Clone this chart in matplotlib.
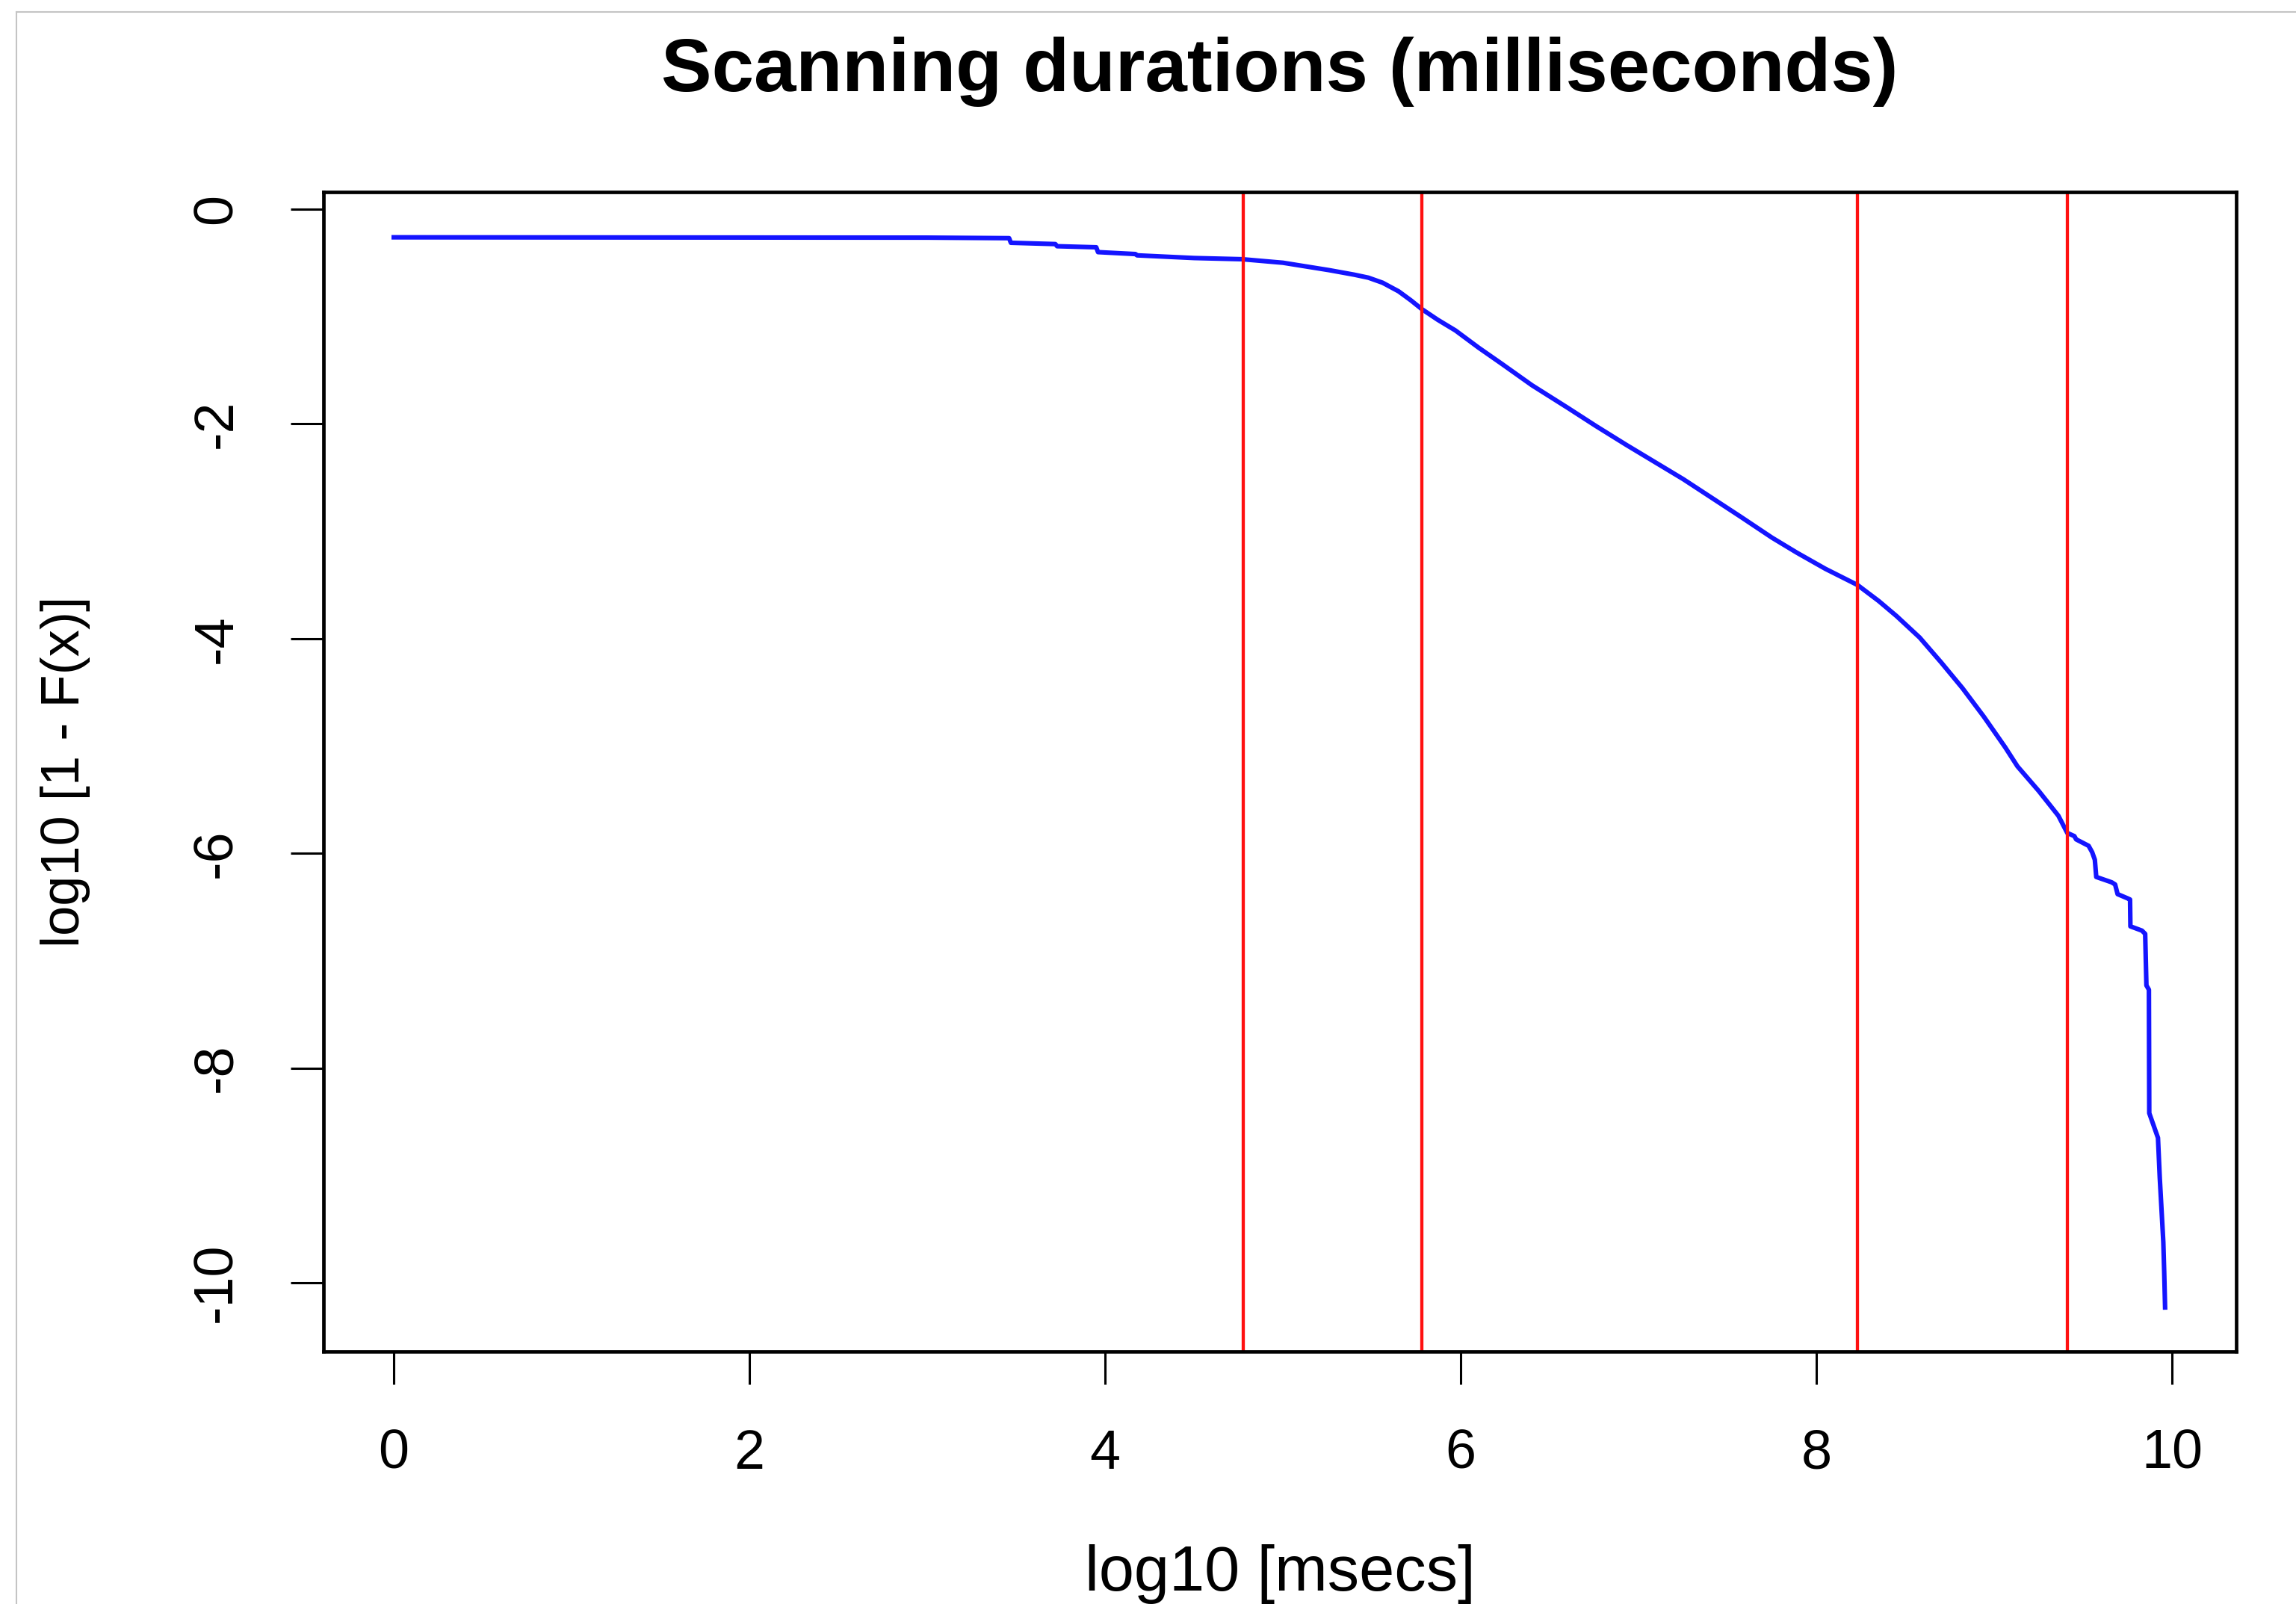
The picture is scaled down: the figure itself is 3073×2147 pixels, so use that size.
import matplotlib
matplotlib.use("Agg")
import matplotlib.pyplot as plt
from matplotlib.lines import Line2D

plt.rcParams['font.family'] = ['Liberation Sans', 'DejaVu Sans']
plt.rcParams['axes.unicode_minus'] = False

# ---- data ----
log_msecs = [0.0, 3.0, 3.46, 3.47, 3.72, 3.73, 3.95, 3.96, 4.17, 4.18, 4.5, 4.77,
             5.0, 5.26, 5.4, 5.48, 5.56, 5.65, 5.72, 5.78, 5.87, 5.97, 6.1, 6.23,
             6.4, 6.6, 6.76, 6.93, 7.25, 7.57, 7.75, 7.89, 8.05, 8.23, 8.35, 8.45,
             8.58, 8.7, 8.82, 8.94, 9.06, 9.13, 9.25, 9.36, 9.41, 9.45, 9.46, 9.53,
             9.55, 9.565, 9.573, 9.66, 9.679, 9.693, 9.75, 9.763, 9.765, 9.83, 9.848,
             9.855, 9.869, 9.871, 9.92, 9.93, 9.95, 9.955, 9.96]
log_survival = [-0.262, -0.265, -0.27, -0.313, -0.325, -0.345, -0.355, -0.40, -0.418,
                -0.43, -0.455, -0.466, -0.499, -0.568, -0.61, -0.638, -0.685, -0.765,
                -0.85, -0.93, -1.03, -1.13, -1.29, -1.44, -1.64, -1.849, -2.02, -2.195,
                -2.514, -2.861, -3.06, -3.20, -3.35, -3.50, -3.65, -3.79, -3.99, -4.22,
                -4.46, -4.725, -5.01, -5.19, -5.42, -5.65, -5.81, -5.84, -5.87, -5.93,
                -5.99, -6.06, -6.22, -6.27, -6.29, -6.38, -6.42, -6.43, -6.68, -6.72,
                -6.75, -7.23, -7.27, -8.42, -8.65, -9.02, -9.62, -9.9, -10.23]
breakpoints = [4.775, 5.78, 8.23, 9.41]

xticks = [0, 2, 4, 6, 8, 10]
yticks = [0, -2, -4, -6, -8, -10]
title = "Scanning durations (milliseconds)"
xlabel = "log10 [msecs]"
ylabel = "log10 [1 - F(x)]"

W, H = 3073, 2147
fig = plt.figure(figsize=(W / 100, H / 100), dpi=100)
fig.patch.set_facecolor('white')

L, R, T, B = 433, 2993, 257, 1809
ax = fig.add_axes([L / W, 1 - B / H, (R - L) / W, (B - T) / H])

ax.plot(log_msecs, log_survival, color='#1414ff', lw=4.4, solid_joinstyle='round')
for bp in breakpoints:
    ax.axvline(bp, color='#ff1010', lw=3.1)

ax.set_xlim(-0.395, 10.36)
ax.set_ylim(-10.64, 0.16)
ax.set_xticks(xticks)
ax.set_xticklabels([str(v) for v in xticks])
ax.set_yticks(yticks)
ax.set_yticklabels([str(v) for v in yticks], rotation=90, va='center')

for s in ax.spines.values():
    s.set_linewidth(3.4)
    s.set_color('black')

ax.tick_params(axis='both', length=32, width=2.2, color='black', labelsize=53)
ax.tick_params(axis='x', pad=42)
ax.tick_params(axis='y', pad=46)

ax.set_xlabel(xlabel, fontsize=61, va='center')
ax.xaxis.set_label_coords(0.5, -0.192)
ax.set_ylabel(ylabel, fontsize=52, va='center')
ax.yaxis.set_label_coords(-0.1348, 0.5)

ax.set_title(title, fontsize=73, fontweight='bold', y=(B - 104) / (B - T), va='center')

# light grey frame of the screenshot
x0 = 22 / W
y0 = 1 - 16 / H
fig.add_artist(Line2D([x0, x0], [0, y0], transform=fig.transFigure, color='#c4c4c4', lw=1.5))
fig.add_artist(Line2D([x0, 1], [y0, y0], transform=fig.transFigure, color='#c4c4c4', lw=1.5))

fig.savefig("out.png", dpi=100, facecolor='white')
